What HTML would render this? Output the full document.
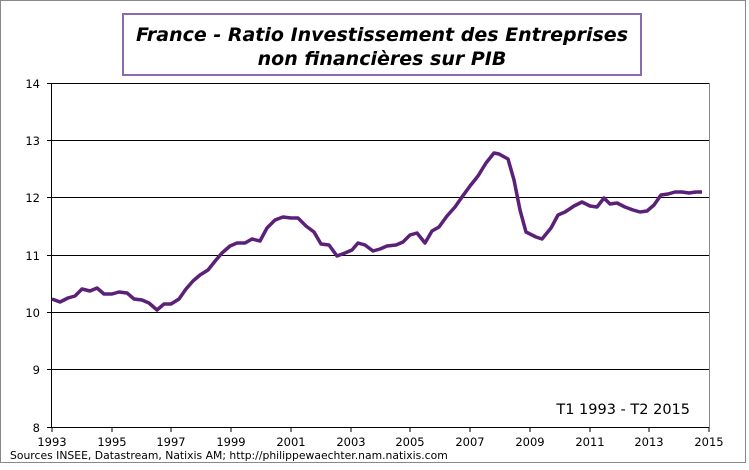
<!DOCTYPE html>
<html><head><meta charset="utf-8"><style>
body{margin:0;background:#fff;}
svg text{font-family:"DejaVu Sans","Liberation Sans",sans-serif;}
</style></head><body>
<svg width="749" height="465" viewBox="0 0 749 465" xmlns="http://www.w3.org/2000/svg">
<rect x="0.5" y="0.5" width="745" height="462" fill="#fff" stroke="#888" stroke-width="1"/>
<g stroke="#000" stroke-width="1">
<line x1="52" y1="83.5" x2="709" y2="83.5"/>
<line x1="52" y1="140.5" x2="709" y2="140.5"/>
<line x1="52" y1="197.5" x2="709" y2="197.5"/>
<line x1="52" y1="255.5" x2="709" y2="255.5"/>
<line x1="52" y1="312.5" x2="709" y2="312.5"/>
<line x1="52" y1="369.5" x2="709" y2="369.5"/>
<line x1="52" y1="427.5" x2="709" y2="427.5"/>
<line x1="51.5" y1="83" x2="51.5" y2="427"/>
<line x1="709.5" y1="83" x2="709.5" y2="427" stroke="#888"/>
<line x1="47" y1="83.5" x2="52" y2="83.5"/><line x1="47" y1="140.5" x2="52" y2="140.5"/><line x1="47" y1="197.5" x2="52" y2="197.5"/><line x1="47" y1="255.5" x2="52" y2="255.5"/><line x1="47" y1="312.5" x2="52" y2="312.5"/><line x1="47" y1="369.5" x2="52" y2="369.5"/><line x1="47" y1="427.5" x2="52" y2="427.5"/>
<line x1="52" y1="427" x2="52" y2="432"/><line x1="112" y1="427" x2="112" y2="432"/><line x1="171" y1="427" x2="171" y2="432"/><line x1="231" y1="427" x2="231" y2="432"/><line x1="291" y1="427" x2="291" y2="432"/><line x1="351" y1="427" x2="351" y2="432"/><line x1="410" y1="427" x2="410" y2="432"/><line x1="470" y1="427" x2="470" y2="432"/><line x1="530" y1="427" x2="530" y2="432"/><line x1="590" y1="427" x2="590" y2="432"/><line x1="649" y1="427" x2="649" y2="432"/><line x1="709" y1="427" x2="709" y2="432"/>
</g>
<g font-size="11.5" text-anchor="end" fill="#000">
<text x="40" y="88">14</text><text x="40" y="145">13</text><text x="40" y="202">12</text><text x="40" y="260">11</text><text x="40" y="317">10</text><text x="40" y="374">9</text><text x="40" y="432">8</text>
</g>
<g font-size="11.5" text-anchor="middle" fill="#000">
<text x="52" y="446">1993</text><text x="112" y="446">1995</text><text x="171" y="446">1997</text><text x="231" y="446">1999</text><text x="291" y="446">2001</text><text x="351" y="446">2003</text><text x="410" y="446">2005</text><text x="470" y="446">2007</text><text x="530" y="446">2009</text><text x="590" y="446">2011</text><text x="649" y="446">2013</text><text x="709" y="446">2015</text>
</g>
<text x="10" y="459" font-size="10.8" fill="#000">Sources INSEE, Datastream, Natixis AM; http://philippewaechter.nam.natixis.com</text>
<text x="690" y="414" font-size="14.5" text-anchor="end" fill="#000">T1 1993 - T2 2015</text>
<polyline fill="none" stroke="#5b2078" stroke-width="3.5" stroke-linejoin="round" points="52,299 60,302 68,298 75,296 82,289 90,291 97,288 104,294 112,294 119,292 127,293 134,299 142,300 149,303 157,310 164,304 171,304 179,299 186,289 193,281 200,275 208,270 216,260 222,253 230,246 237,243 245,243 252,239 260,241 267,228 275,220 283,217 291,218 298,218 306,226 314,232 321,244 329,245 337,256 345,253 352,250 358,243 365,245 373,251 380,249 387,246 396,245 403,242 410,235 417,233 425,243 432,231 439,227 447,216 455,207 462,197 470,186 478,176 486,163 494,153 499,154 508,159 514,180 520,210 526,232 536,237 542,239 551,228 558,215 565,212 574,206 582,202 590,206 597,207 604,198 610,204 617,203 625,207 633,210 640,212 647,211 654,205 661,195 668,194 675,192 682,192 689,193 696,192 702,192"/>
<rect x="123" y="14" width="518" height="61" fill="#fff" stroke="#8a6bb0" stroke-width="2"/>
<g font-size="19" font-weight="bold" font-style="italic" text-anchor="middle" fill="#000">
<text x="382" y="41">France - Ratio Investissement des Entreprises</text>
<text x="382" y="65">non financières sur PIB</text>
</g>
</svg>
</body></html>
